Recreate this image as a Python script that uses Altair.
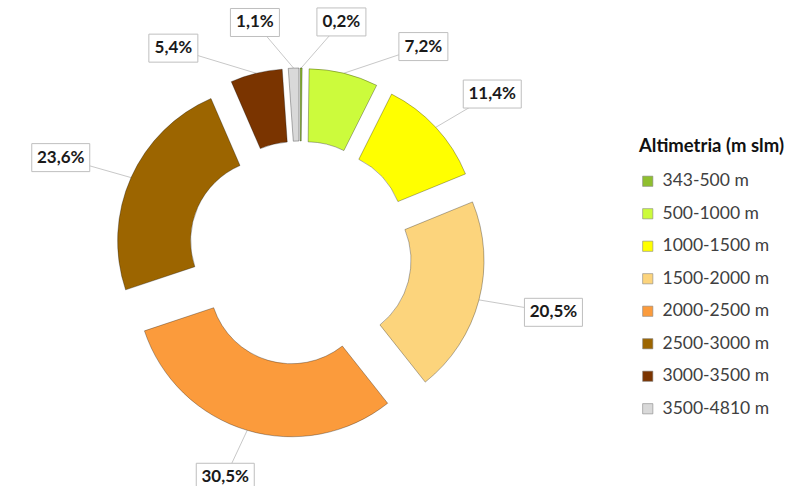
import math
import altair as alt
import pandas as pd

categories = ["343-500 m", "500-1000 m", "1000-1500 m", "1500-2000 m",
              "2000-2500 m", "2500-3000 m", "3000-3500 m", "3500-4810 m"]
shares = [0.2, 7.2, 11.4, 20.5, 30.5, 23.6, 5.4, 1.1]
labels = ["0,2%", "7,2%", "11,4%", "20,5%", "30,5%", "23,6%", "5,4%", "1,1%"]
fill_colors = ["#8fbf2e", "#ccfb3c", "#ffff00", "#fcd47c",
               "#fb9b3c", "#9c6500", "#7a3400", "#d9d9d9"]

# layout (pixels)
CX, CY = 300, 253
R_OUT, R_IN = 155, 82
EXPLODE = 30
LAB_RX, LAB_RY = 262, 234
MIN_SEP = 19.0  # degrees between neighbouring labels

total = sum(shares)
starts, ends, mids = [], [], []
acc = 0.0
for s in shares:
    starts.append(acc / total)
    acc += s
    ends.append(acc / total)
    mids.append((starts[-1] + ends[-1]) / 2 * 360.0)

# simple label spreading around the top (avoid overlaps of small slices)
ang = [m if m <= 180 else m - 360 for m in mids]
order = sorted(range(len(ang)), key=lambda i: ang[i])
clusters = [[i] for i in order]
changed = True
while changed:
    changed = False
    pos = []
    for cl in clusters:
        mean = sum(ang[i] for i in cl) / len(cl)
        first = mean - MIN_SEP * (len(cl) - 1) / 2
        pos.append([first + MIN_SEP * k for k in range(len(cl))])
    for k in range(len(clusters) - 1):
        if pos[k + 1][0] - pos[k][-1] < MIN_SEP:
            clusters[k] = clusters[k] + clusters[k + 1]
            del clusters[k + 1]
            changed = True
            break
lab_ang = [0.0] * len(ang)
for cl in clusters:
    mean = sum(ang[i] for i in cl) / len(cl)
    first = mean - MIN_SEP * (len(cl) - 1) / 2
    for k, i in enumerate(cl):
        lab_ang[i] = first + MIN_SEP * k

rows = []
for i, c in enumerate(categories):
    m = math.radians(mids[i])
    a = math.radians(lab_ang[i])
    cx = CX + EXPLODE * math.sin(m)
    cy = CY - EXPLODE * math.cos(m)
    lx = CX + LAB_RX * math.sin(a)
    ly = CY - LAB_RY * math.cos(a)
    w = 9.0 * len(labels[i]) + 13
    rows.append(dict(cat=c, share=shares[i], label=labels[i],
                     t0=starts[i], t1=ends[i], cx=cx, cy=cy,
                     ex=cx + R_OUT * math.sin(m), ey=cy - R_OUT * math.cos(m),
                     lx=lx, ly=ly, bx0=lx - w / 2, bx1=lx + w / 2,
                     by0=ly - 14, by1=ly + 14))
df = pd.DataFrame(rows)

X = alt.Scale(domain=[0, 794], range=[0, 794])
Y = alt.Scale(domain=[0, 486], range=[0, 486])

base = alt.Chart(df)

arcs = base.mark_arc(radius=R_OUT, radius2=R_IN, stroke="#000000",
                     strokeOpacity=0.3, strokeWidth=1).encode(
    theta=alt.Theta("t0:Q", scale=alt.Scale(domain=[0, 1], range=[0, 2 * math.pi])),
    theta2="t1:Q",
    x=alt.X("cx:Q", scale=X, axis=None),
    y=alt.Y("cy:Q", scale=Y, axis=None),
    fill=alt.Fill("cat:N",
                  scale=alt.Scale(domain=categories, range=fill_colors),
                  legend=alt.Legend(title="Altimetria (m slm)", orient="none",
                                    legendX=639, legendY=137,
                                    titleFont="Lato", titleFontSize=18.5,
                                    titleFontWeight="bold", titleColor="#111",
                                    titlePadding=17,
                                    labelFont="Lato", labelFontSize=17.5,
                                    labelColor="#404040", rowPadding=13.5,
                                    symbolType="square", symbolSize=105,
                                    symbolStrokeWidth=0.6,
                                    symbolStrokeColor="#888",
                                    symbolOpacity=1, labelOffset=6)),
)

leaders = base.mark_rule(color="#c8c8c8", strokeWidth=1).encode(
    x=alt.X("ex:Q", scale=X, axis=None), y=alt.Y("ey:Q", scale=Y, axis=None),
    x2="lx:Q", y2="ly:Q",
)

boxes = base.mark_rect(fill="white", stroke="#bfbfbf", strokeWidth=1).encode(
    x=alt.X("bx0:Q", scale=X, axis=None), x2="bx1:Q",
    y=alt.Y("by0:Q", scale=Y, axis=None), y2="by1:Q",
)

texts = base.mark_text(font="Lato", fontSize=17, fontWeight="bold",
                       color="#1a1a1a", baseline="middle", align="center").encode(
    x=alt.X("lx:Q", scale=X, axis=None), y=alt.Y("ly:Q", scale=Y, axis=None),
    text="label:N",
)

chart = alt.layer(leaders, arcs, boxes, texts).properties(
    width=794, height=486, padding=0,
    autosize=alt.AutoSizeParams(type="none"),
    background="white",
).configure_view(stroke=None)

chart.save("out.html", embed_options={"renderer": "svg", "actions": False})
